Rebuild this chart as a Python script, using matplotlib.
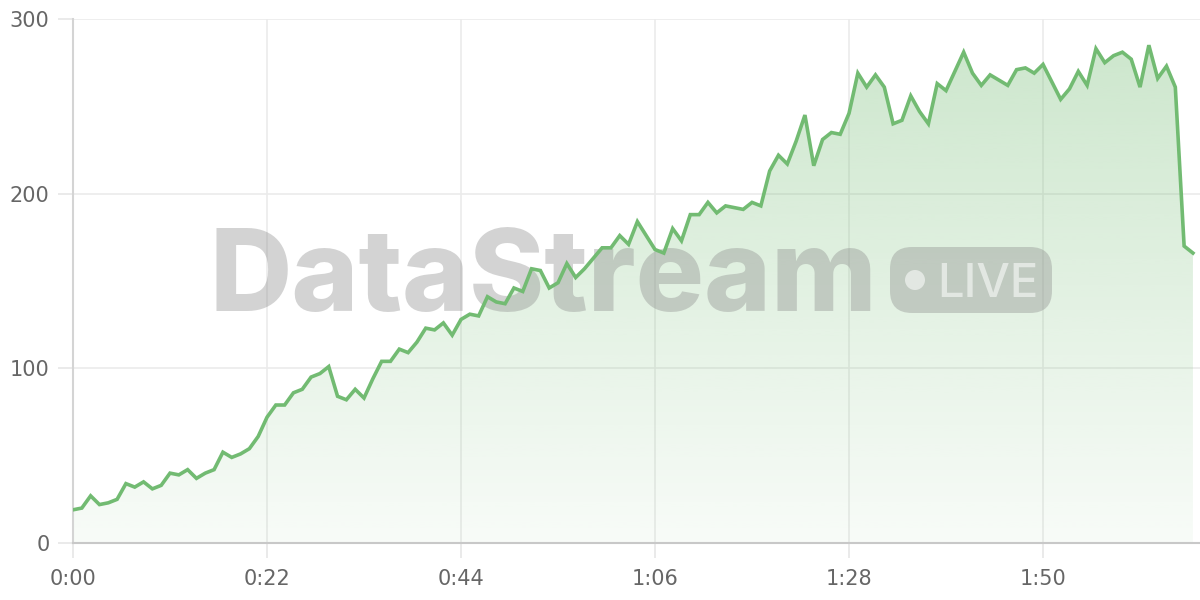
import numpy as np
import matplotlib
matplotlib.use('Agg')
import matplotlib.pyplot as plt
from matplotlib.patches import FancyBboxPatch, Circle
from matplotlib.transforms import IdentityTransform

# viewers per second
viewers = [19, 20, 27, 22, 23, 25, 34, 32, 35, 31,
           33, 40, 39, 42, 37, 40, 42, 52, 49, 51,
           54, 61, 72, 79, 79, 86, 88, 95, 97, 101,
           84, 82, 88, 83, 94, 104, 104, 111, 109, 115,
           123, 122, 126, 119, 128, 131, 130, 141, 138, 137,
           146, 144, 157, 156, 146, 149, 160, 152, 157, 163,
           169, 169, 176, 171, 184, 176, 168, 166, 180, 173,
           188, 188, 195, 189, 193, 192, 191, 195, 193, 213,
           222, 217, 230, 245, 216, 231, 235, 234, 246, 269,
           261, 268, 261, 240, 242, 256, 247, 240, 263, 259,
           270, 281, 269, 262, 268, 265, 262, 271, 272, 269,
           274, 264, 254, 260, 270, 262, 283, 275, 279, 281,
           277, 261, 285, 266, 273, 261, 170, 166]
seconds = np.arange(len(viewers))

tick_secs = [0, 22, 44, 66, 88, 110]
tick_labels = ['0:00', '0:22', '0:44', '1:06', '1:28', '1:50']
y_ticks = [0, 100, 200, 300]

line_color = '#72bb72'
text_color = '#666666'

plt.rcParams['font.family'] = ['Inter', 'DejaVu Sans']

fig = plt.figure(figsize=(12, 6), dpi=100)
ax = fig.add_axes([73/1200, 57/600, 1127/1200, 524/600])

ax.set_xlim(0, 127.8)
ax.set_ylim(0, 300)

# gradient fill under the line
fill = ax.fill_between(seconds, viewers, 0, color='none', lw=0)
grad = np.zeros((256, 1, 4))
grad[:, 0, :3] = matplotlib.colors.to_rgb(line_color)
grad[:, 0, 3] = np.linspace(0.05, 0.37, 256)
im = ax.imshow(grad, extent=[0, 127.8, 0, 300], origin='lower',
               aspect='auto', zorder=1, interpolation='bilinear')
im.set_clip_path(fill.get_paths()[0], ax.transData)

ax.plot(seconds, viewers, color=line_color, lw=2.6, zorder=3,
        solid_joinstyle='miter')

# watermark
wm = (0.55, 0.55, 0.55)
ax.text(0.4525, 0.482, 'DataStream', transform=fig.transFigure,
        ha='center', va='baseline', fontsize=82, fontweight='heavy',
        color=wm, alpha=0.38, zorder=2)
badge = FancyBboxPatch((890, 287), 162, 66, boxstyle='round,pad=0,rounding_size=22',
                       transform=IdentityTransform(), fc=wm, ec='none',
                       alpha=0.38, zorder=2)
ax.add_patch(badge)
ax.add_patch(Circle((915, 320), 10, transform=IdentityTransform(),
                    fc='white', ec='none', alpha=0.55, zorder=2.1))
ax.text(937/1200, 303/600, 'LIVE', transform=fig.transFigure,
        ha='left', va='baseline', fontsize=34, fontweight='medium',
        color='white', alpha=0.55, zorder=2.1)

ax.set_xticks(tick_secs)
ax.set_xticklabels(tick_labels)
ax.set_yticks(y_ticks)

ax.grid(True, color='#ebebeb', lw=1.2, zorder=0)
ax.set_axisbelow(True)
for s in ['top', 'right']:
    ax.spines[s].set_visible(False)
ax.spines['left'].set_color('#d4d4d4')
ax.spines['left'].set_linewidth(1.5)
ax.spines['bottom'].set_color('#c8c8c8')
ax.spines['bottom'].set_linewidth(1.5)

ax.tick_params(axis='both', length=11, width=1.2, color='#e6e6e6',
               labelcolor=text_color, labelsize=15)
for lab in ax.get_xticklabels() + ax.get_yticklabels():
    lab.set_family('DejaVu Sans')
ax.tick_params(axis='y', pad=6)
ax.tick_params(axis='x', pad=8)

fig.savefig('out.png', dpi=100)
